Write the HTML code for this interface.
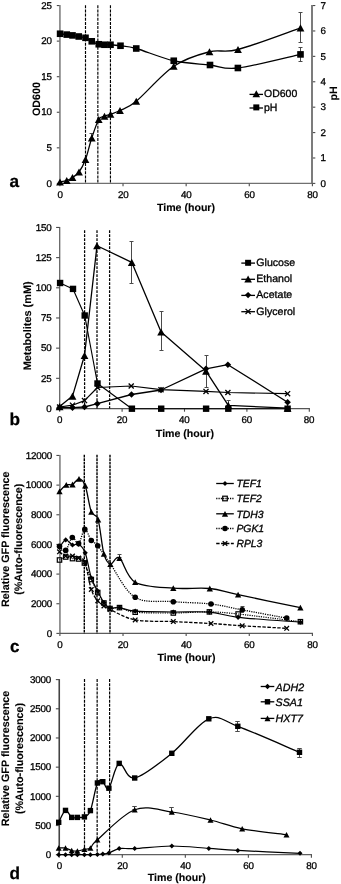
<!DOCTYPE html>
<html lang="en">
<head>
<meta charset="utf-8">
<title>Figure</title>
<style>
html,body{margin:0;padding:0;background:#fff;}
body{width:341px;height:884px;overflow:hidden;font-family:"Liberation Sans",sans-serif;}
svg{display:block;will-change:transform;filter:grayscale(1);}
</style>
</head>
<body>
<svg width="341" height="884" viewBox="0 0 341 884" font-family="'Liberation Sans', sans-serif" text-rendering="geometricPrecision">
<line x1="59.9" y1="5.05" x2="59.9" y2="184" stroke="#909090" stroke-width="1.85"/>
<line x1="312" y1="5.05" x2="312" y2="184" stroke="#7c7c7c" stroke-width="2"/>
<line x1="59.9" y1="183.4" x2="312.4" y2="183.4" stroke="#707070" stroke-width="1.4"/>
<line x1="56.8" y1="183.4" x2="59.4" y2="183.4" stroke="#4a4a4a" stroke-width="1.1"/>
<text x="51.7" y="186.61" font-size="9.8" text-anchor="end" letter-spacing="-0.2" fill="#000" stroke="#000" stroke-width="0.3">0</text>
<line x1="56.8" y1="147.83" x2="59.4" y2="147.83" stroke="#4a4a4a" stroke-width="1.1"/>
<text x="51.7" y="151.04" font-size="9.8" text-anchor="end" letter-spacing="-0.2" fill="#000" stroke="#000" stroke-width="0.3">5</text>
<line x1="56.8" y1="112.26" x2="59.4" y2="112.26" stroke="#4a4a4a" stroke-width="1.1"/>
<text x="51.7" y="115.47" font-size="9.8" text-anchor="end" letter-spacing="-0.2" fill="#000" stroke="#000" stroke-width="0.3">10</text>
<line x1="56.8" y1="76.69" x2="59.4" y2="76.69" stroke="#4a4a4a" stroke-width="1.1"/>
<text x="51.7" y="79.9" font-size="9.8" text-anchor="end" letter-spacing="-0.2" fill="#000" stroke="#000" stroke-width="0.3">15</text>
<line x1="56.8" y1="41.12" x2="59.4" y2="41.12" stroke="#4a4a4a" stroke-width="1.1"/>
<text x="51.7" y="44.33" font-size="9.8" text-anchor="end" letter-spacing="-0.2" fill="#000" stroke="#000" stroke-width="0.3">20</text>
<line x1="56.8" y1="5.55" x2="59.4" y2="5.55" stroke="#4a4a4a" stroke-width="1.1"/>
<text x="51.7" y="8.76" font-size="9.8" text-anchor="end" letter-spacing="-0.2" fill="#000" stroke="#000" stroke-width="0.3">25</text>
<line x1="312.9" y1="183.4" x2="315.3" y2="183.4" stroke="#4a4a4a" stroke-width="1.1"/>
<text x="320.6" y="186.61" font-size="9.8" text-anchor="start" letter-spacing="-0.2" fill="#000" stroke="#000" stroke-width="0.3">0</text>
<line x1="312.9" y1="157.99" x2="315.3" y2="157.99" stroke="#4a4a4a" stroke-width="1.1"/>
<text x="320.6" y="161.2" font-size="9.8" text-anchor="start" letter-spacing="-0.2" fill="#000" stroke="#000" stroke-width="0.3">1</text>
<line x1="312.9" y1="132.59" x2="315.3" y2="132.59" stroke="#4a4a4a" stroke-width="1.1"/>
<text x="320.6" y="135.79" font-size="9.8" text-anchor="start" letter-spacing="-0.2" fill="#000" stroke="#000" stroke-width="0.3">2</text>
<line x1="312.9" y1="107.18" x2="315.3" y2="107.18" stroke="#4a4a4a" stroke-width="1.1"/>
<text x="320.6" y="110.39" font-size="9.8" text-anchor="start" letter-spacing="-0.2" fill="#000" stroke="#000" stroke-width="0.3">3</text>
<line x1="312.9" y1="81.77" x2="315.3" y2="81.77" stroke="#4a4a4a" stroke-width="1.1"/>
<text x="320.6" y="84.98" font-size="9.8" text-anchor="start" letter-spacing="-0.2" fill="#000" stroke="#000" stroke-width="0.3">4</text>
<line x1="312.9" y1="56.36" x2="315.3" y2="56.36" stroke="#4a4a4a" stroke-width="1.1"/>
<text x="320.6" y="59.57" font-size="9.8" text-anchor="start" letter-spacing="-0.2" fill="#000" stroke="#000" stroke-width="0.3">5</text>
<line x1="312.9" y1="30.96" x2="315.3" y2="30.96" stroke="#4a4a4a" stroke-width="1.1"/>
<text x="320.6" y="34.17" font-size="9.8" text-anchor="start" letter-spacing="-0.2" fill="#000" stroke="#000" stroke-width="0.3">6</text>
<line x1="312.9" y1="5.55" x2="315.3" y2="5.55" stroke="#4a4a4a" stroke-width="1.1"/>
<text x="320.6" y="8.76" font-size="9.8" text-anchor="start" letter-spacing="-0.2" fill="#000" stroke="#000" stroke-width="0.3">7</text>
<line x1="59.9" y1="183.4" x2="59.9" y2="186.2" stroke="#4a4a4a" stroke-width="1.1"/>
<text x="60.1" y="197.91" font-size="9.8" text-anchor="middle" letter-spacing="-0.2" fill="#000" stroke="#000" stroke-width="0.3">0</text>
<line x1="123.02" y1="183.4" x2="123.02" y2="186.2" stroke="#4a4a4a" stroke-width="1.1"/>
<text x="123.22" y="197.91" font-size="9.8" text-anchor="middle" letter-spacing="-0.2" fill="#000" stroke="#000" stroke-width="0.3">20</text>
<line x1="186.15" y1="183.4" x2="186.15" y2="186.2" stroke="#4a4a4a" stroke-width="1.1"/>
<text x="186.35" y="197.91" font-size="9.8" text-anchor="middle" letter-spacing="-0.2" fill="#000" stroke="#000" stroke-width="0.3">40</text>
<line x1="249.27" y1="183.4" x2="249.27" y2="186.2" stroke="#4a4a4a" stroke-width="1.1"/>
<text x="249.47" y="197.91" font-size="9.8" text-anchor="middle" letter-spacing="-0.2" fill="#000" stroke="#000" stroke-width="0.3">60</text>
<line x1="312.4" y1="183.4" x2="312.4" y2="186.2" stroke="#4a4a4a" stroke-width="1.1"/>
<text x="312.6" y="197.91" font-size="9.8" text-anchor="middle" letter-spacing="-0.2" fill="#000" stroke="#000" stroke-width="0.3">80</text>
<line x1="85.5" y1="5.3" x2="85.5" y2="183.4" stroke="#000" stroke-width="1.15" stroke-dasharray="3 1.15"/>
<line x1="97.85" y1="5.3" x2="97.85" y2="183.4" stroke="#000" stroke-width="1.15" stroke-dasharray="3 1.15"/>
<line x1="110.45" y1="5.3" x2="110.45" y2="183.4" stroke="#000" stroke-width="1.15" stroke-dasharray="3 1.15"/>
<text x="36.3" y="102.83" font-size="10.7" text-anchor="middle" font-weight="bold" transform="rotate(-90 36.3 99)" fill="#000" stroke="#000" stroke-width="0.12">OD600</text>
<text x="333.6" y="97.23" font-size="10.7" text-anchor="middle" font-weight="bold" transform="rotate(-90 333.6 93.4)" fill="#000" stroke="#000" stroke-width="0.12">pH</text>
<text x="186" y="210.59" font-size="10.6" text-anchor="middle" font-weight="bold" fill="#000" stroke="#000" stroke-width="0.12">Time (hour)</text>
<text x="9.6" y="187.2" font-size="17.2" font-weight="bold" fill="#000" stroke="#000" stroke-width="0.25">a</text>
<line x1="300.5" y1="12.5" x2="300.5" y2="42.5" stroke="#4a4a4a" stroke-width="1"/>
<line x1="298.5" y1="12.5" x2="302.5" y2="12.5" stroke="#4a4a4a" stroke-width="1"/>
<line x1="298.5" y1="42.5" x2="302.5" y2="42.5" stroke="#4a4a4a" stroke-width="1"/>
<line x1="91.5" y1="133.5" x2="91.5" y2="138.5" stroke="#4a4a4a" stroke-width="1"/>
<line x1="89.5" y1="133.5" x2="93.5" y2="133.5" stroke="#4a4a4a" stroke-width="1"/>
<line x1="89.5" y1="138.5" x2="93.5" y2="138.5" stroke="#4a4a4a" stroke-width="1"/>
<line x1="300.5" y1="47.5" x2="300.5" y2="61.5" stroke="#4a4a4a" stroke-width="1"/>
<line x1="298.5" y1="47.5" x2="302.5" y2="47.5" stroke="#4a4a4a" stroke-width="1"/>
<line x1="298.5" y1="61.5" x2="302.5" y2="61.5" stroke="#4a4a4a" stroke-width="1"/>
<path d="M60.1 33.75 C61.21 33.89 64.68 34.33 66.75 34.6 C68.82 34.88 70.5 35.08 72.5 35.4 C74.5 35.72 76.58 36.1 78.75 36.5 C80.92 36.9 83.33 37 85.5 37.8 C87.67 38.6 89.54 40.22 91.75 41.3 C93.96 42.38 96.62 43.67 98.75 44.25 C100.88 44.83 102.54 44.67 104.5 44.75 C106.46 44.83 107.83 44.58 110.5 44.75 C113.17 44.92 116.21 45.12 120.5 45.75 C124.79 46.38 127.38 46 136.25 48.5 C145.12 51 161.46 58 173.75 60.75 C186.04 63.5 199.31 63.79 210 65 C220.69 66.21 222.82 69.77 237.9 68 C252.98 66.23 290.07 56.67 300.5 54.4" fill="none" stroke="#000" stroke-width="1.3" stroke-linejoin="round"/>
<rect x="56.8" y="30.45" width="6.6" height="6.6" fill="#000"/>
<rect x="63.45" y="31.3" width="6.6" height="6.6" fill="#000"/>
<rect x="69.2" y="32.1" width="6.6" height="6.6" fill="#000"/>
<rect x="75.45" y="33.2" width="6.6" height="6.6" fill="#000"/>
<rect x="82.2" y="34.5" width="6.6" height="6.6" fill="#000"/>
<rect x="88.45" y="38" width="6.6" height="6.6" fill="#000"/>
<rect x="95.45" y="40.95" width="6.6" height="6.6" fill="#000"/>
<rect x="101.2" y="41.45" width="6.6" height="6.6" fill="#000"/>
<rect x="107.2" y="41.45" width="6.6" height="6.6" fill="#000"/>
<rect x="117.2" y="42.45" width="6.6" height="6.6" fill="#000"/>
<rect x="132.95" y="45.2" width="6.6" height="6.6" fill="#000"/>
<rect x="170.45" y="57.45" width="6.6" height="6.6" fill="#000"/>
<rect x="206.7" y="61.7" width="6.6" height="6.6" fill="#000"/>
<rect x="234.6" y="64.7" width="6.6" height="6.6" fill="#000"/>
<rect x="297.2" y="51.1" width="6.6" height="6.6" fill="#000"/>
<path d="M60 182 C61.12 181.75 64.67 181.25 66.75 180.5 C68.83 179.75 70.46 178.92 72.5 177.5 C74.54 176.08 76.83 175 79 172 C81.17 169 83.38 165.17 85.5 159.5 C87.62 153.83 89.54 144.67 91.75 138 C93.96 131.33 96.62 123.12 98.75 119.5 C100.88 115.88 102.54 117.12 104.5 116.25 C106.46 115.38 107.92 115.21 110.5 114.25 C113.08 113.29 115.71 112.67 120 110.5 C124.29 108.33 127.29 108.62 136.25 101.25 C145.21 93.88 161.54 74.5 173.75 66.25 C185.96 58 198.79 54.54 209.5 51.75 C220.21 48.96 222.83 53.48 238 49.5 C253.17 45.52 290.08 31.5 300.5 27.9" fill="none" stroke="#000" stroke-width="1.3" stroke-linejoin="round"/>
<path d="M60 178.4 L63.89 185.6 L56.11 185.6 Z" fill="#000"/>
<path d="M66.75 176.9 L70.64 184.1 L62.86 184.1 Z" fill="#000"/>
<path d="M72.5 173.9 L76.39 181.1 L68.61 181.1 Z" fill="#000"/>
<path d="M79 168.4 L82.89 175.6 L75.11 175.6 Z" fill="#000"/>
<path d="M85.5 155.9 L89.39 163.1 L81.61 163.1 Z" fill="#000"/>
<path d="M91.75 134.4 L95.64 141.6 L87.86 141.6 Z" fill="#000"/>
<path d="M98.75 115.9 L102.64 123.1 L94.86 123.1 Z" fill="#000"/>
<path d="M104.5 112.65 L108.39 119.85 L100.61 119.85 Z" fill="#000"/>
<path d="M110.5 110.65 L114.39 117.85 L106.61 117.85 Z" fill="#000"/>
<path d="M120 106.9 L123.89 114.1 L116.11 114.1 Z" fill="#000"/>
<path d="M136.25 97.65 L140.14 104.85 L132.36 104.85 Z" fill="#000"/>
<path d="M173.75 62.65 L177.64 69.85 L169.86 69.85 Z" fill="#000"/>
<path d="M209.5 48.15 L213.39 55.35 L205.61 55.35 Z" fill="#000"/>
<path d="M238 45.9 L241.89 53.1 L234.11 53.1 Z" fill="#000"/>
<path d="M300.5 24.3 L304.39 31.5 L296.61 31.5 Z" fill="#000"/>
<line x1="249.5" y1="94.4" x2="263" y2="94.4" stroke="#000" stroke-width="1.3"/>
<path d="M256.3 90.3 L260.08 97.3 L252.52 97.3 Z" fill="#000"/>
<text x="264" y="97.16" font-size="10.5" text-anchor="start" fill="#000" stroke="#000" stroke-width="0.32">OD600</text>
<line x1="249.5" y1="108" x2="263" y2="108" stroke="#000" stroke-width="1.3"/>
<rect x="253.3" y="104.4" width="6" height="6" fill="#000"/>
<text x="264" y="110.76" font-size="10.5" text-anchor="start" fill="#000" stroke="#000" stroke-width="0.32">pH</text>
<line x1="59.7" y1="226.95" x2="59.7" y2="409.1" stroke="#606060" stroke-width="1.25"/>
<line x1="59.7" y1="408.5" x2="309.9" y2="408.5" stroke="#555" stroke-width="1.25"/>
<line x1="56.1" y1="408.5" x2="59.7" y2="408.5" stroke="#4a4a4a" stroke-width="1.1"/>
<text x="51.6" y="411.81" font-size="9.8" text-anchor="end" letter-spacing="-0.2" fill="#000" stroke="#000" stroke-width="0.3">0</text>
<line x1="56.1" y1="378.32" x2="59.7" y2="378.32" stroke="#4a4a4a" stroke-width="1.1"/>
<text x="51.6" y="381.63" font-size="9.8" text-anchor="end" letter-spacing="-0.2" fill="#000" stroke="#000" stroke-width="0.3">25</text>
<line x1="56.1" y1="348.15" x2="59.7" y2="348.15" stroke="#4a4a4a" stroke-width="1.1"/>
<text x="51.6" y="351.46" font-size="9.8" text-anchor="end" letter-spacing="-0.2" fill="#000" stroke="#000" stroke-width="0.3">50</text>
<line x1="56.1" y1="317.97" x2="59.7" y2="317.97" stroke="#4a4a4a" stroke-width="1.1"/>
<text x="51.6" y="321.28" font-size="9.8" text-anchor="end" letter-spacing="-0.2" fill="#000" stroke="#000" stroke-width="0.3">75</text>
<line x1="56.1" y1="287.8" x2="59.7" y2="287.8" stroke="#4a4a4a" stroke-width="1.1"/>
<text x="51.6" y="291.11" font-size="9.8" text-anchor="end" letter-spacing="-0.2" fill="#000" stroke="#000" stroke-width="0.3">100</text>
<line x1="56.1" y1="257.62" x2="59.7" y2="257.62" stroke="#4a4a4a" stroke-width="1.1"/>
<text x="51.6" y="260.93" font-size="9.8" text-anchor="end" letter-spacing="-0.2" fill="#000" stroke="#000" stroke-width="0.3">125</text>
<line x1="56.1" y1="227.45" x2="59.7" y2="227.45" stroke="#4a4a4a" stroke-width="1.1"/>
<text x="51.6" y="230.76" font-size="9.8" text-anchor="end" letter-spacing="-0.2" fill="#000" stroke="#000" stroke-width="0.3">150</text>
<line x1="59.7" y1="408.5" x2="59.7" y2="411.7" stroke="#4a4a4a" stroke-width="1.1"/>
<text x="59.5" y="423.41" font-size="9.8" text-anchor="middle" letter-spacing="-0.2" fill="#000" stroke="#000" stroke-width="0.3">0</text>
<line x1="122.1" y1="408.5" x2="122.1" y2="411.7" stroke="#4a4a4a" stroke-width="1.1"/>
<text x="121.9" y="423.41" font-size="9.8" text-anchor="middle" letter-spacing="-0.2" fill="#000" stroke="#000" stroke-width="0.3">20</text>
<line x1="184.5" y1="408.5" x2="184.5" y2="411.7" stroke="#4a4a4a" stroke-width="1.1"/>
<text x="184.3" y="423.41" font-size="9.8" text-anchor="middle" letter-spacing="-0.2" fill="#000" stroke="#000" stroke-width="0.3">40</text>
<line x1="246.9" y1="408.5" x2="246.9" y2="411.7" stroke="#4a4a4a" stroke-width="1.1"/>
<text x="246.7" y="423.41" font-size="9.8" text-anchor="middle" letter-spacing="-0.2" fill="#000" stroke="#000" stroke-width="0.3">60</text>
<line x1="309.3" y1="408.5" x2="309.3" y2="411.7" stroke="#4a4a4a" stroke-width="1.1"/>
<text x="309.1" y="423.41" font-size="9.8" text-anchor="middle" letter-spacing="-0.2" fill="#000" stroke="#000" stroke-width="0.3">80</text>
<line x1="84.6" y1="230.2" x2="84.6" y2="408.5" stroke="#000" stroke-width="1.25" stroke-dasharray="2.9 1.1"/>
<line x1="97" y1="230.2" x2="97" y2="408.5" stroke="#000" stroke-width="1.25" stroke-dasharray="2.9 1.1"/>
<line x1="109.6" y1="230.2" x2="109.6" y2="408.5" stroke="#000" stroke-width="1.25" stroke-dasharray="2.9 1.1"/>
<text x="27.5" y="329.8" font-size="10.9" text-anchor="middle" font-weight="bold" transform="rotate(-90 27.5 325.9)" fill="#000" stroke="#000" stroke-width="0.12">Metabolites (mM)</text>
<text x="184.9" y="436.69" font-size="10.6" text-anchor="middle" font-weight="bold" fill="#000" stroke="#000" stroke-width="0.12">Time (hour)</text>
<text x="9.6" y="424.5" font-size="17.2" font-weight="bold" fill="#000" stroke="#000" stroke-width="0.25">b</text>
<line x1="131.5" y1="241.5" x2="131.5" y2="283.5" stroke="#4a4a4a" stroke-width="1"/>
<line x1="129.5" y1="241.5" x2="133.5" y2="241.5" stroke="#4a4a4a" stroke-width="1"/>
<line x1="129.5" y1="283.5" x2="133.5" y2="283.5" stroke="#4a4a4a" stroke-width="1"/>
<line x1="161.5" y1="311.5" x2="161.5" y2="350.5" stroke="#4a4a4a" stroke-width="1"/>
<line x1="159.5" y1="311.5" x2="163.5" y2="311.5" stroke="#4a4a4a" stroke-width="1"/>
<line x1="159.5" y1="350.5" x2="163.5" y2="350.5" stroke="#4a4a4a" stroke-width="1"/>
<line x1="206.5" y1="355.5" x2="206.5" y2="387.5" stroke="#4a4a4a" stroke-width="1"/>
<line x1="204.5" y1="355.5" x2="208.5" y2="355.5" stroke="#4a4a4a" stroke-width="1"/>
<line x1="204.5" y1="387.5" x2="208.5" y2="387.5" stroke="#4a4a4a" stroke-width="1"/>
<line x1="228.5" y1="400.5" x2="228.5" y2="405.5" stroke="#4a4a4a" stroke-width="1"/>
<line x1="226.5" y1="400.5" x2="230.5" y2="400.5" stroke="#4a4a4a" stroke-width="1"/>
<line x1="226.5" y1="405.5" x2="230.5" y2="405.5" stroke="#4a4a4a" stroke-width="1"/>
<path d="M60.1 283 L73 288.9 L84.7 315.5 L97.5 383.5 L131.9 408.7 L161.2 408.7 L206.1 408.7 L228.3 408.7 L287.6 408.7" fill="none" stroke="#000" stroke-width="1.15" stroke-linejoin="round"/>
<rect x="56.9" y="279.8" width="6.4" height="6.4" fill="#000"/>
<rect x="69.8" y="285.7" width="6.4" height="6.4" fill="#000"/>
<rect x="81.5" y="312.3" width="6.4" height="6.4" fill="#000"/>
<rect x="94.3" y="380.3" width="6.4" height="6.4" fill="#000"/>
<rect x="128.7" y="405.5" width="6.4" height="6.4" fill="#000"/>
<rect x="158" y="405.5" width="6.4" height="6.4" fill="#000"/>
<rect x="202.9" y="405.5" width="6.4" height="6.4" fill="#000"/>
<rect x="225.1" y="405.5" width="6.4" height="6.4" fill="#000"/>
<rect x="284.4" y="405.5" width="6.4" height="6.4" fill="#000"/>
<path d="M59.6 407 L72.5 405.2 L84.5 400.6 L97.5 387.5 L131.2 386 L161 389.7 L206 391.4 L227.9 392.5 L287.6 393.7" fill="none" stroke="#000" stroke-width="1.2" stroke-linejoin="round"/>
<path d="M57.05 404.45 L62.15 409.55 M57.05 409.55 L62.15 404.45" stroke="#000" stroke-width="1.3" fill="none"/>
<path d="M69.95 402.65 L75.05 407.75 M69.95 407.75 L75.05 402.65" stroke="#000" stroke-width="1.3" fill="none"/>
<path d="M81.95 398.05 L87.05 403.15 M81.95 403.15 L87.05 398.05" stroke="#000" stroke-width="1.3" fill="none"/>
<path d="M94.95 384.95 L100.05 390.05 M94.95 390.05 L100.05 384.95" stroke="#000" stroke-width="1.3" fill="none"/>
<path d="M128.65 383.45 L133.75 388.55 M128.65 388.55 L133.75 383.45" stroke="#000" stroke-width="1.3" fill="none"/>
<path d="M158.45 387.15 L163.55 392.25 M158.45 392.25 L163.55 387.15" stroke="#000" stroke-width="1.3" fill="none"/>
<path d="M203.45 388.85 L208.55 393.95 M203.45 393.95 L208.55 388.85" stroke="#000" stroke-width="1.3" fill="none"/>
<path d="M225.35 389.95 L230.45 395.05 M225.35 395.05 L230.45 389.95" stroke="#000" stroke-width="1.3" fill="none"/>
<path d="M285.05 391.15 L290.15 396.25 M285.05 396.25 L290.15 391.15" stroke="#000" stroke-width="1.3" fill="none"/>
<path d="M59.6 407.5 L72.5 407.7 L84.5 407 L97.3 403.7 L131.5 394.5 L161 390 L206 368.8 L227.9 364.7 L287.6 402.2" fill="none" stroke="#000" stroke-width="1.3" stroke-linejoin="round"/>
<path d="M59.6 404.2 L62.9 407.5 L59.6 410.8 L56.3 407.5 Z" fill="#000"/>
<path d="M72.5 404.4 L75.8 407.7 L72.5 411 L69.2 407.7 Z" fill="#000"/>
<path d="M84.5 403.7 L87.8 407 L84.5 410.3 L81.2 407 Z" fill="#000"/>
<path d="M97.3 400.4 L100.6 403.7 L97.3 407 L94 403.7 Z" fill="#000"/>
<path d="M131.5 391.2 L134.8 394.5 L131.5 397.8 L128.2 394.5 Z" fill="#000"/>
<path d="M161 386.7 L164.3 390 L161 393.3 L157.7 390 Z" fill="#000"/>
<path d="M206 365.5 L209.3 368.8 L206 372.1 L202.7 368.8 Z" fill="#000"/>
<path d="M227.9 361.4 L231.2 364.7 L227.9 368 L224.6 364.7 Z" fill="#000"/>
<path d="M287.6 398.9 L290.9 402.2 L287.6 405.5 L284.3 402.2 Z" fill="#000"/>
<path d="M59.6 406.6 L72.5 396.1 L84.5 355.5 L97 245.75 L131.75 262.3 L161.1 332 L206 371.1 L228.3 405.3 L287.6 408.2" fill="none" stroke="#000" stroke-width="1.3" stroke-linejoin="round"/>
<path d="M59.6 403 L63.49 410.2 L55.71 410.2 Z" fill="#000"/>
<path d="M72.5 392.5 L76.39 399.7 L68.61 399.7 Z" fill="#000"/>
<path d="M84.5 351.9 L88.39 359.1 L80.61 359.1 Z" fill="#000"/>
<path d="M97 242.15 L100.89 249.35 L93.11 249.35 Z" fill="#000"/>
<path d="M131.75 258.7 L135.64 265.9 L127.86 265.9 Z" fill="#000"/>
<path d="M161.1 328.4 L164.99 335.6 L157.21 335.6 Z" fill="#000"/>
<path d="M206 367.5 L209.89 374.7 L202.11 374.7 Z" fill="#000"/>
<path d="M228.3 401.7 L232.19 408.9 L224.41 408.9 Z" fill="#000"/>
<path d="M287.6 404.6 L291.49 411.8 L283.71 411.8 Z" fill="#000"/>
<line x1="241.3" y1="263.1" x2="255" y2="263.1" stroke="#000" stroke-width="1.3"/>
<rect x="245.1" y="259.8" width="6" height="6" fill="#000"/>
<text x="256.3" y="266.09" font-size="10.6" text-anchor="start" fill="#000" stroke="#000" stroke-width="0.32">Glucose</text>
<line x1="241.3" y1="279.3" x2="255" y2="279.3" stroke="#000" stroke-width="1.3"/>
<path d="M248.1 275.5 L251.88 282.5 L244.32 282.5 Z" fill="#000"/>
<text x="256.3" y="282.29" font-size="10.6" text-anchor="start" fill="#000" stroke="#000" stroke-width="0.32">Ethanol</text>
<line x1="241.3" y1="295.4" x2="255" y2="295.4" stroke="#000" stroke-width="1.3"/>
<path d="M248.1 291.9 L251.3 295.1 L248.1 298.3 L244.9 295.1 Z" fill="#000"/>
<text x="256.3" y="298.39" font-size="10.6" text-anchor="start" fill="#000" stroke="#000" stroke-width="0.32">Acetate</text>
<line x1="241.3" y1="311.7" x2="255" y2="311.7" stroke="#000" stroke-width="1.3"/>
<path d="M245.55 308.85 L250.65 313.95 M245.55 313.95 L250.65 308.85" stroke="#000" stroke-width="1.3" fill="none"/>
<text x="256.3" y="314.69" font-size="10.6" text-anchor="start" fill="#000" stroke="#000" stroke-width="0.32">Glycerol</text>
<line x1="59.9" y1="454.95" x2="59.9" y2="634" stroke="#909090" stroke-width="1.85"/>
<line x1="59.9" y1="633.4" x2="313" y2="633.4" stroke="#5c5c5c" stroke-width="1.35"/>
<line x1="56.4" y1="633.4" x2="59.4" y2="633.4" stroke="#4a4a4a" stroke-width="1.1"/>
<text x="52" y="636.71" font-size="9.8" text-anchor="end" letter-spacing="-0.2" fill="#000" stroke="#000" stroke-width="0.3">0</text>
<line x1="56.4" y1="603.74" x2="59.4" y2="603.74" stroke="#4a4a4a" stroke-width="1.1"/>
<text x="52" y="607.05" font-size="9.8" text-anchor="end" letter-spacing="-0.2" fill="#000" stroke="#000" stroke-width="0.3">2000</text>
<line x1="56.4" y1="574.08" x2="59.4" y2="574.08" stroke="#4a4a4a" stroke-width="1.1"/>
<text x="52" y="577.39" font-size="9.8" text-anchor="end" letter-spacing="-0.2" fill="#000" stroke="#000" stroke-width="0.3">4000</text>
<line x1="56.4" y1="544.42" x2="59.4" y2="544.42" stroke="#4a4a4a" stroke-width="1.1"/>
<text x="52" y="547.73" font-size="9.8" text-anchor="end" letter-spacing="-0.2" fill="#000" stroke="#000" stroke-width="0.3">6000</text>
<line x1="56.4" y1="514.77" x2="59.4" y2="514.77" stroke="#4a4a4a" stroke-width="1.1"/>
<text x="52" y="518.08" font-size="9.8" text-anchor="end" letter-spacing="-0.2" fill="#000" stroke="#000" stroke-width="0.3">8000</text>
<line x1="56.4" y1="485.11" x2="59.4" y2="485.11" stroke="#4a4a4a" stroke-width="1.1"/>
<text x="52" y="488.42" font-size="9.8" text-anchor="end" letter-spacing="-0.2" fill="#000" stroke="#000" stroke-width="0.3">10000</text>
<line x1="56.4" y1="455.45" x2="59.4" y2="455.45" stroke="#4a4a4a" stroke-width="1.1"/>
<text x="52" y="458.76" font-size="9.8" text-anchor="end" letter-spacing="-0.2" fill="#000" stroke="#000" stroke-width="0.3">12000</text>
<line x1="59.9" y1="633.4" x2="59.9" y2="636" stroke="#4a4a4a" stroke-width="1.1"/>
<text x="59.9" y="648.01" font-size="9.8" text-anchor="middle" letter-spacing="-0.2" fill="#000" stroke="#000" stroke-width="0.3">0</text>
<line x1="123.02" y1="633.4" x2="123.02" y2="636" stroke="#4a4a4a" stroke-width="1.1"/>
<text x="123.02" y="648.01" font-size="9.8" text-anchor="middle" letter-spacing="-0.2" fill="#000" stroke="#000" stroke-width="0.3">20</text>
<line x1="186.15" y1="633.4" x2="186.15" y2="636" stroke="#4a4a4a" stroke-width="1.1"/>
<text x="186.15" y="648.01" font-size="9.8" text-anchor="middle" letter-spacing="-0.2" fill="#000" stroke="#000" stroke-width="0.3">40</text>
<line x1="249.27" y1="633.4" x2="249.27" y2="636" stroke="#4a4a4a" stroke-width="1.1"/>
<text x="249.27" y="648.01" font-size="9.8" text-anchor="middle" letter-spacing="-0.2" fill="#000" stroke="#000" stroke-width="0.3">60</text>
<line x1="312.4" y1="633.4" x2="312.4" y2="636" stroke="#4a4a4a" stroke-width="1.1"/>
<text x="312.4" y="648.01" font-size="9.8" text-anchor="middle" letter-spacing="-0.2" fill="#000" stroke="#000" stroke-width="0.3">80</text>
<line x1="84.3" y1="454.7" x2="84.3" y2="633.4" stroke="#000" stroke-width="1.4" stroke-dasharray="2.7 0.8"/>
<line x1="97" y1="454.7" x2="97" y2="633.4" stroke="#000" stroke-width="1.4" stroke-dasharray="2.7 0.8"/>
<line x1="110" y1="454.7" x2="110" y2="633.4" stroke="#000" stroke-width="1.4" stroke-dasharray="2.7 0.8"/>
<text x="4.8" y="543.15" font-size="10.75" text-anchor="middle" font-weight="bold" transform="rotate(-90 4.8 539.3)" fill="#000" stroke="#000" stroke-width="0.12">Relative GFP fluorescence</text>
<text x="18.5" y="543.15" font-size="10.75" text-anchor="middle" font-weight="bold" transform="rotate(-90 18.5 539.3)" fill="#000" stroke="#000" stroke-width="0.12">(%Auto-fluorescence)</text>
<text x="186.5" y="661.19" font-size="10.6" text-anchor="middle" font-weight="bold" fill="#000" stroke="#000" stroke-width="0.12">Time (hour)</text>
<text x="9.9" y="652.0" font-size="17" font-weight="bold" fill="#000" stroke="#000" stroke-width="0.25">c</text>
<line x1="119.5" y1="554.5" x2="119.5" y2="557.5" stroke="#4a4a4a" stroke-width="1"/>
<line x1="117.5" y1="554.5" x2="121.5" y2="554.5" stroke="#4a4a4a" stroke-width="1"/>
<line x1="117.5" y1="557.5" x2="121.5" y2="557.5" stroke="#4a4a4a" stroke-width="1"/>
<line x1="242.5" y1="606.5" x2="242.5" y2="609.5" stroke="#4a4a4a" stroke-width="1"/>
<line x1="240.5" y1="606.5" x2="244.5" y2="606.5" stroke="#4a4a4a" stroke-width="1"/>
<line x1="240.5" y1="609.5" x2="244.5" y2="609.5" stroke="#4a4a4a" stroke-width="1"/>
<path d="M59.5 551.8 C60.53 552.5 63.53 555.3 65.7 556 C67.87 556.7 70.35 555.67 72.5 556 C74.65 556.33 76.55 557 78.6 558 C80.65 559 82.68 556.75 84.8 562 C86.92 567.25 89.15 583.03 91.3 589.5 C93.45 595.97 95.6 598.05 97.7 600.8 C99.8 603.55 101.85 604.55 103.9 606 C105.95 607.45 104.78 607.18 110 609.5 C115.22 611.82 124.65 617.88 135.2 619.9 C145.75 621.92 160.67 621 173.3 621.6 C185.93 622.2 199.52 622.8 211 623.5 C222.48 624.2 229.58 625 242.2 625.8 C254.82 626.6 279.28 627.88 286.7 628.3" fill="none" stroke="#000" stroke-width="1.3" stroke-linejoin="round" stroke-dasharray="3.4 1.5"/>
<path d="M57.2 549.5 L61.8 554.09 M57.2 554.09 L61.8 549.5" stroke="#000" stroke-width="1.3" fill="none"/>
<path d="M63.41 553.71 L68 558.29 M63.41 558.29 L68 553.71" stroke="#000" stroke-width="1.3" fill="none"/>
<path d="M70.2 553.71 L74.8 558.29 M70.2 558.29 L74.8 553.71" stroke="#000" stroke-width="1.3" fill="none"/>
<path d="M76.3 555.71 L80.89 560.29 M76.3 560.29 L80.89 555.71" stroke="#000" stroke-width="1.3" fill="none"/>
<path d="M82.5 559.71 L87.09 564.29 M82.5 564.29 L87.09 559.71" stroke="#000" stroke-width="1.3" fill="none"/>
<path d="M89 587.21 L93.59 591.79 M89 591.79 L93.59 587.21" stroke="#000" stroke-width="1.3" fill="none"/>
<path d="M95.41 598.5 L100 603.09 M95.41 603.09 L100 598.5" stroke="#000" stroke-width="1.3" fill="none"/>
<path d="M101.61 603.71 L106.2 608.29 M101.61 608.29 L106.2 603.71" stroke="#000" stroke-width="1.3" fill="none"/>
<path d="M107.7 607.21 L112.3 611.79 M107.7 611.79 L112.3 607.21" stroke="#000" stroke-width="1.3" fill="none"/>
<path d="M132.91 617.61 L137.49 622.19 M132.91 622.19 L137.49 617.61" stroke="#000" stroke-width="1.3" fill="none"/>
<path d="M171.01 619.31 L175.59 623.89 M171.01 623.89 L175.59 619.31" stroke="#000" stroke-width="1.3" fill="none"/>
<path d="M208.71 621.21 L213.29 625.79 M208.71 625.79 L213.29 621.21" stroke="#000" stroke-width="1.3" fill="none"/>
<path d="M239.91 623.5 L244.49 628.09 M239.91 628.09 L244.49 623.5" stroke="#000" stroke-width="1.3" fill="none"/>
<path d="M284.4 626 L289 630.59 M284.4 630.59 L289 626" stroke="#000" stroke-width="1.3" fill="none"/>
<path d="M59.5 560 C60.53 559.5 63.53 557.23 65.7 557 C67.87 556.77 70.35 558.27 72.5 558.6 C74.65 558.93 76.62 558.27 78.6 559 C80.58 559.73 82.28 559.58 84.4 563 C86.52 566.42 89.08 574.58 91.3 579.5 C93.52 584.42 95.6 588.58 97.7 592.5 C99.8 596.42 101.85 600.33 103.9 603 C105.95 605.67 107.4 607.73 110 608.5 C112.6 609.27 115.3 606.98 119.5 607.6 C123.7 608.22 126.23 611.3 135.2 612.2 C144.17 613.1 160.93 613.05 173.3 613 C185.67 612.95 198.6 611.73 209.4 611.9 C220.2 612.07 222.93 612.37 238.1 614 C253.27 615.63 290.02 620.42 300.4 621.7" fill="none" stroke="#000" stroke-width="1.2" stroke-linejoin="round" stroke-dasharray="1.2 1.1"/>
<rect x="57.3" y="557.8" width="4.4" height="4.4" fill="none" stroke="#000" stroke-width="1.2"/>
<rect x="63.5" y="554.8" width="4.4" height="4.4" fill="none" stroke="#000" stroke-width="1.2"/>
<rect x="70.3" y="556.4" width="4.4" height="4.4" fill="none" stroke="#000" stroke-width="1.2"/>
<rect x="76.4" y="556.8" width="4.4" height="4.4" fill="none" stroke="#000" stroke-width="1.2"/>
<rect x="82.2" y="560.8" width="4.4" height="4.4" fill="none" stroke="#000" stroke-width="1.2"/>
<rect x="89.1" y="577.3" width="4.4" height="4.4" fill="none" stroke="#000" stroke-width="1.2"/>
<rect x="95.5" y="590.3" width="4.4" height="4.4" fill="none" stroke="#000" stroke-width="1.2"/>
<rect x="101.7" y="600.8" width="4.4" height="4.4" fill="none" stroke="#000" stroke-width="1.2"/>
<rect x="107.8" y="606.3" width="4.4" height="4.4" fill="none" stroke="#000" stroke-width="1.2"/>
<rect x="117.3" y="605.4" width="4.4" height="4.4" fill="none" stroke="#000" stroke-width="1.2"/>
<rect x="133" y="610" width="4.4" height="4.4" fill="none" stroke="#000" stroke-width="1.2"/>
<rect x="171.1" y="610.8" width="4.4" height="4.4" fill="none" stroke="#000" stroke-width="1.2"/>
<rect x="207.2" y="609.7" width="4.4" height="4.4" fill="none" stroke="#000" stroke-width="1.2"/>
<rect x="235.9" y="611.8" width="4.4" height="4.4" fill="none" stroke="#000" stroke-width="1.2"/>
<rect x="298.2" y="619.5" width="4.4" height="4.4" fill="none" stroke="#000" stroke-width="1.2"/>
<path d="M59.5 547.5 C60.53 546.23 63.53 540.32 65.7 539.9 C67.87 539.48 70.35 544.28 72.5 545 C74.65 545.72 76.48 542.9 78.6 544.2 C80.72 545.5 83.08 547.17 85.2 552.8 C87.32 558.43 89.22 571.63 91.3 578 C93.38 584.37 95.6 586.92 97.7 591 C99.8 595.08 101.85 599.67 103.9 602.5 C105.95 605.33 107.4 607.15 110 608 C112.6 608.85 115.3 607.07 119.5 607.6 C123.7 608.13 126.23 610.47 135.2 611.2 C144.17 611.93 160.93 611.85 173.3 612 C185.67 612.15 198.6 611.22 209.4 612.1 C220.2 612.98 222.93 615.62 238.1 617.3 C253.27 618.98 290.02 621.38 300.4 622.2" fill="none" stroke="#000" stroke-width="1.2" stroke-linejoin="round"/>
<path d="M59.5 544.9 L62.1 547.5 L59.5 550.1 L56.9 547.5 Z" fill="#000"/>
<path d="M65.7 537.3 L68.3 539.9 L65.7 542.5 L63.1 539.9 Z" fill="#000"/>
<path d="M72.5 542.4 L75.1 545 L72.5 547.6 L69.9 545 Z" fill="#000"/>
<path d="M78.6 541.6 L81.2 544.2 L78.6 546.8 L76 544.2 Z" fill="#000"/>
<path d="M85.2 550.2 L87.8 552.8 L85.2 555.4 L82.6 552.8 Z" fill="#000"/>
<path d="M91.3 575.4 L93.9 578 L91.3 580.6 L88.7 578 Z" fill="#000"/>
<path d="M97.7 588.4 L100.3 591 L97.7 593.6 L95.1 591 Z" fill="#000"/>
<path d="M103.9 599.9 L106.5 602.5 L103.9 605.1 L101.3 602.5 Z" fill="#000"/>
<path d="M110 605.4 L112.6 608 L110 610.6 L107.4 608 Z" fill="#000"/>
<path d="M119.5 605 L122.1 607.6 L119.5 610.2 L116.9 607.6 Z" fill="#000"/>
<path d="M135.2 608.6 L137.8 611.2 L135.2 613.8 L132.6 611.2 Z" fill="#000"/>
<path d="M173.3 609.4 L175.9 612 L173.3 614.6 L170.7 612 Z" fill="#000"/>
<path d="M209.4 609.5 L212 612.1 L209.4 614.7 L206.8 612.1 Z" fill="#000"/>
<path d="M238.1 614.7 L240.7 617.3 L238.1 619.9 L235.5 617.3 Z" fill="#000"/>
<path d="M300.4 619.6 L303 622.2 L300.4 624.8 L297.8 622.2 Z" fill="#000"/>
<path d="M59.5 546.3 C60.53 546.98 63.57 551.87 65.7 550.4 C67.83 548.93 70.15 538.63 72.3 537.5 C74.45 536.37 76.52 544.95 78.6 543.6 C80.68 542.25 82.68 529.92 84.8 529.4 C86.92 528.88 89.15 537.78 91.3 540.5 C93.45 543.22 94.52 541.78 97.7 545.7 C100.88 549.62 104.15 555.4 110.4 564 C116.65 572.6 124.72 591.02 135.2 597.3 C145.68 603.58 160.67 600.58 173.3 601.7 C185.93 602.82 199.52 602.63 211 604 C222.48 605.37 229.58 607.55 242.2 609.9 C254.82 612.25 279.28 616.73 286.7 618.1" fill="none" stroke="#000" stroke-width="1.3" stroke-linejoin="round" stroke-dasharray="1.2 1.1"/>
<circle cx="59.5" cy="546.3" r="2.8" fill="#000"/>
<circle cx="65.7" cy="550.4" r="2.8" fill="#000"/>
<circle cx="72.3" cy="537.5" r="2.8" fill="#000"/>
<circle cx="78.6" cy="543.6" r="2.8" fill="#000"/>
<circle cx="84.8" cy="529.4" r="2.8" fill="#000"/>
<circle cx="91.3" cy="540.5" r="2.8" fill="#000"/>
<circle cx="97.7" cy="545.7" r="2.8" fill="#000"/>
<circle cx="135.2" cy="597.3" r="2.8" fill="#000"/>
<circle cx="173.3" cy="601.7" r="2.8" fill="#000"/>
<circle cx="211" cy="604" r="2.8" fill="#000"/>
<circle cx="242.2" cy="609.9" r="2.8" fill="#000"/>
<circle cx="286.7" cy="618.1" r="2.8" fill="#000"/>
<path d="M59.5 491.3 C60.63 490.23 64.13 486.03 66.3 484.9 C68.47 483.77 70.38 485.52 72.5 484.5 C74.62 483.48 76.88 478.63 79 478.8 C81.12 478.97 83.15 480 85.2 485.5 C87.25 491 89.15 506.12 91.3 511.8 C93.45 517.48 96 512.58 98.1 519.6 C100.2 526.62 101.85 546.48 103.9 553.9 C105.95 561.32 107.8 563.4 110.4 564.1 C113 564.8 115.37 555.08 119.5 558.1 C123.63 561.12 126.23 577.18 135.2 582.2 C144.17 587.22 160.87 587.15 173.3 588.2 C185.73 589.25 199 587.42 209.8 588.5 C220.6 589.58 223 591.5 238.1 594.7 C253.2 597.9 290.02 605.53 300.4 607.7" fill="none" stroke="#000" stroke-width="1.3" stroke-linejoin="round"/>
<path d="M59.5 488.4 L62.63 494.2 L56.37 494.2 Z" fill="#000"/>
<path d="M66.3 482 L69.43 487.8 L63.17 487.8 Z" fill="#000"/>
<path d="M72.5 481.6 L75.63 487.4 L69.37 487.4 Z" fill="#000"/>
<path d="M79 475.9 L82.13 481.7 L75.87 481.7 Z" fill="#000"/>
<path d="M85.2 482.6 L88.33 488.4 L82.07 488.4 Z" fill="#000"/>
<path d="M91.3 508.9 L94.43 514.7 L88.17 514.7 Z" fill="#000"/>
<path d="M98.1 516.7 L101.23 522.5 L94.97 522.5 Z" fill="#000"/>
<path d="M103.9 551 L107.03 556.8 L100.77 556.8 Z" fill="#000"/>
<path d="M110.4 561.2 L113.53 567 L107.27 567 Z" fill="#000"/>
<path d="M119.5 555.2 L122.63 561 L116.37 561 Z" fill="#000"/>
<path d="M135.2 579.3 L138.33 585.1 L132.07 585.1 Z" fill="#000"/>
<path d="M173.3 585.3 L176.43 591.1 L170.17 591.1 Z" fill="#000"/>
<path d="M209.8 585.6 L212.93 591.4 L206.67 591.4 Z" fill="#000"/>
<path d="M238.1 591.8 L241.23 597.6 L234.97 597.6 Z" fill="#000"/>
<path d="M300.4 604.8 L303.53 610.6 L297.27 610.6 Z" fill="#000"/>
<line x1="216.2" y1="483.5" x2="233.8" y2="483.5" stroke="#000" stroke-width="1.3"/>
<path d="M225 481.1 L227.4 483.5 L225 485.9 L222.6 483.5 Z" fill="#000"/>
<text x="236.4" y="487.42" font-size="10.4" text-anchor="start" font-style="italic" fill="#000" stroke="#000" stroke-width="0.32">TEF1</text>
<line x1="216.2" y1="498.5" x2="233.8" y2="498.5" stroke="#000" stroke-width="1.3" stroke-dasharray="1.2 1.1"/>
<rect x="222.7" y="496.2" width="4.6" height="4.6" fill="none" stroke="#000" stroke-width="1.2"/>
<text x="236.4" y="502.42" font-size="10.4" text-anchor="start" font-style="italic" fill="#000" stroke="#000" stroke-width="0.32">TEF2</text>
<line x1="216.2" y1="513.8" x2="233.8" y2="513.8" stroke="#000" stroke-width="1.3"/>
<path d="M225 510.9 L228.13 516.7 L221.87 516.7 Z" fill="#000"/>
<text x="236.4" y="517.72" font-size="10.4" text-anchor="start" font-style="italic" fill="#000" stroke="#000" stroke-width="0.32">TDH3</text>
<line x1="216.2" y1="528.5" x2="233.8" y2="528.5" stroke="#000" stroke-width="1.3" stroke-dasharray="1.2 1.1"/>
<circle cx="225" cy="528.5" r="2.8" fill="#000"/>
<text x="236.4" y="532.42" font-size="10.4" text-anchor="start" font-style="italic" fill="#000" stroke="#000" stroke-width="0.32">PGK1</text>
<line x1="216.2" y1="543.5" x2="233.8" y2="543.5" stroke="#000" stroke-width="1.3" stroke-dasharray="3.4 1.5"/>
<path d="M222.71 541.21 L227.29 545.79 M222.71 545.79 L227.29 541.21" stroke="#000" stroke-width="1.3" fill="none"/>
<text x="236.4" y="547.42" font-size="10.4" text-anchor="start" font-style="italic" fill="#000" stroke="#000" stroke-width="0.32">RPL3</text>
<line x1="59.25" y1="679.1" x2="59.25" y2="855.3" stroke="#444" stroke-width="1.6"/>
<line x1="59.25" y1="854.7" x2="312" y2="854.7" stroke="#606060" stroke-width="1.3"/>
<line x1="55.85" y1="854.7" x2="59.25" y2="854.7" stroke="#4a4a4a" stroke-width="1.1"/>
<text x="51" y="858.01" font-size="9.8" text-anchor="end" letter-spacing="-0.2" fill="#000" stroke="#000" stroke-width="0.3">0</text>
<line x1="55.85" y1="825.52" x2="59.25" y2="825.52" stroke="#4a4a4a" stroke-width="1.1"/>
<text x="51" y="828.83" font-size="9.8" text-anchor="end" letter-spacing="-0.2" fill="#000" stroke="#000" stroke-width="0.3">500</text>
<line x1="55.85" y1="796.33" x2="59.25" y2="796.33" stroke="#4a4a4a" stroke-width="1.1"/>
<text x="51" y="799.64" font-size="9.8" text-anchor="end" letter-spacing="-0.2" fill="#000" stroke="#000" stroke-width="0.3">1000</text>
<line x1="55.85" y1="767.15" x2="59.25" y2="767.15" stroke="#4a4a4a" stroke-width="1.1"/>
<text x="51" y="770.46" font-size="9.8" text-anchor="end" letter-spacing="-0.2" fill="#000" stroke="#000" stroke-width="0.3">1500</text>
<line x1="55.85" y1="737.97" x2="59.25" y2="737.97" stroke="#4a4a4a" stroke-width="1.1"/>
<text x="51" y="741.28" font-size="9.8" text-anchor="end" letter-spacing="-0.2" fill="#000" stroke="#000" stroke-width="0.3">2000</text>
<line x1="55.85" y1="708.78" x2="59.25" y2="708.78" stroke="#4a4a4a" stroke-width="1.1"/>
<text x="51" y="712.09" font-size="9.8" text-anchor="end" letter-spacing="-0.2" fill="#000" stroke="#000" stroke-width="0.3">2500</text>
<line x1="55.85" y1="679.6" x2="59.25" y2="679.6" stroke="#4a4a4a" stroke-width="1.1"/>
<text x="51" y="682.91" font-size="9.8" text-anchor="end" letter-spacing="-0.2" fill="#000" stroke="#000" stroke-width="0.3">3000</text>
<line x1="59.25" y1="854.7" x2="59.25" y2="857.7" stroke="#4a4a4a" stroke-width="1.1"/>
<text x="59.45" y="869.21" font-size="9.8" text-anchor="middle" letter-spacing="-0.2" fill="#000" stroke="#000" stroke-width="0.3">0</text>
<line x1="122.29" y1="854.7" x2="122.29" y2="857.7" stroke="#4a4a4a" stroke-width="1.1"/>
<text x="122.49" y="869.21" font-size="9.8" text-anchor="middle" letter-spacing="-0.2" fill="#000" stroke="#000" stroke-width="0.3">20</text>
<line x1="185.32" y1="854.7" x2="185.32" y2="857.7" stroke="#4a4a4a" stroke-width="1.1"/>
<text x="185.52" y="869.21" font-size="9.8" text-anchor="middle" letter-spacing="-0.2" fill="#000" stroke="#000" stroke-width="0.3">40</text>
<line x1="248.36" y1="854.7" x2="248.36" y2="857.7" stroke="#4a4a4a" stroke-width="1.1"/>
<text x="248.56" y="869.21" font-size="9.8" text-anchor="middle" letter-spacing="-0.2" fill="#000" stroke="#000" stroke-width="0.3">60</text>
<line x1="311.4" y1="854.7" x2="311.4" y2="857.7" stroke="#4a4a4a" stroke-width="1.1"/>
<text x="311.6" y="869.21" font-size="9.8" text-anchor="middle" letter-spacing="-0.2" fill="#000" stroke="#000" stroke-width="0.3">80</text>
<line x1="84.5" y1="679" x2="84.5" y2="854.7" stroke="#000" stroke-width="1.2" stroke-dasharray="3 1.14"/>
<line x1="97.15" y1="679" x2="97.15" y2="854.7" stroke="#000" stroke-width="1.2" stroke-dasharray="3 1.14"/>
<line x1="109.6" y1="679" x2="109.6" y2="854.7" stroke="#000" stroke-width="1.2" stroke-dasharray="3 1.14"/>
<text x="5.2" y="762.35" font-size="10.75" text-anchor="middle" font-weight="bold" transform="rotate(-90 5.2 758.5)" fill="#000" stroke="#000" stroke-width="0.12">Relative GFP fluorescence</text>
<text x="18.8" y="762.35" font-size="10.75" text-anchor="middle" font-weight="bold" transform="rotate(-90 18.8 758.5)" fill="#000" stroke="#000" stroke-width="0.12">(%Auto-fluorescence)</text>
<text x="176.8" y="881.09" font-size="10.6" text-anchor="middle" font-weight="bold" fill="#000" stroke="#000" stroke-width="0.12">Time (hour)</text>
<text x="9.6" y="878.9000000000001" font-size="17.2" font-weight="bold" fill="#000" stroke="#000" stroke-width="0.25">d</text>
<line x1="237.5" y1="721.5" x2="237.5" y2="731.5" stroke="#4a4a4a" stroke-width="1"/>
<line x1="235.25" y1="721.5" x2="239.75" y2="721.5" stroke="#4a4a4a" stroke-width="1"/>
<line x1="235.25" y1="731.5" x2="239.75" y2="731.5" stroke="#4a4a4a" stroke-width="1"/>
<line x1="299.5" y1="748.5" x2="299.5" y2="757.5" stroke="#4a4a4a" stroke-width="1"/>
<line x1="297.25" y1="748.5" x2="301.75" y2="748.5" stroke="#4a4a4a" stroke-width="1"/>
<line x1="297.25" y1="757.5" x2="301.75" y2="757.5" stroke="#4a4a4a" stroke-width="1"/>
<line x1="134.5" y1="806.5" x2="134.5" y2="809.5" stroke="#4a4a4a" stroke-width="1"/>
<line x1="132.25" y1="806.5" x2="136.75" y2="806.5" stroke="#4a4a4a" stroke-width="1"/>
<line x1="132.25" y1="809.5" x2="136.75" y2="809.5" stroke="#4a4a4a" stroke-width="1"/>
<line x1="171.5" y1="807.5" x2="171.5" y2="812.5" stroke="#4a4a4a" stroke-width="1"/>
<line x1="169.25" y1="807.5" x2="173.75" y2="807.5" stroke="#4a4a4a" stroke-width="1"/>
<line x1="169.25" y1="812.5" x2="173.75" y2="812.5" stroke="#4a4a4a" stroke-width="1"/>
<path d="M58.7 854.7 C59.83 854.7 63.33 854.7 65.5 854.7 C67.67 854.7 69.72 854.7 71.7 854.7 C73.68 854.7 75.28 854.7 77.4 854.7 C79.52 854.7 82.23 854.7 84.4 854.7 C86.57 854.7 88.23 854.73 90.4 854.7 C92.57 854.67 95.33 854.62 97.4 854.5 C99.47 854.38 100.88 854.25 102.8 854 C104.72 853.75 106.17 853.9 108.9 853 C111.63 852.1 114.9 849.33 119.2 848.6 C123.5 847.87 125.93 849.03 134.7 848.6 C143.47 848.17 159.45 846.03 171.8 846 C184.15 845.97 197.8 847.67 208.8 848.4 C219.8 849.13 222.6 849.58 237.8 850.4 C253 851.22 289.63 852.82 300 853.3" fill="none" stroke="#000" stroke-width="1.2" stroke-linejoin="round"/>
<path d="M58.7 852.2 L61.2 854.7 L58.7 857.2 L56.2 854.7 Z" fill="#000"/>
<path d="M65.5 852.2 L68 854.7 L65.5 857.2 L63 854.7 Z" fill="#000"/>
<path d="M71.7 852.2 L74.2 854.7 L71.7 857.2 L69.2 854.7 Z" fill="#000"/>
<path d="M77.4 852.2 L79.9 854.7 L77.4 857.2 L74.9 854.7 Z" fill="#000"/>
<path d="M84.4 852.2 L86.9 854.7 L84.4 857.2 L81.9 854.7 Z" fill="#000"/>
<path d="M90.4 852.2 L92.9 854.7 L90.4 857.2 L87.9 854.7 Z" fill="#000"/>
<path d="M97.4 852 L99.9 854.5 L97.4 857 L94.9 854.5 Z" fill="#000"/>
<path d="M102.8 851.5 L105.3 854 L102.8 856.5 L100.3 854 Z" fill="#000"/>
<path d="M108.9 850.5 L111.4 853 L108.9 855.5 L106.4 853 Z" fill="#000"/>
<path d="M119.2 846.1 L121.7 848.6 L119.2 851.1 L116.7 848.6 Z" fill="#000"/>
<path d="M134.7 846.1 L137.2 848.6 L134.7 851.1 L132.2 848.6 Z" fill="#000"/>
<path d="M171.8 843.5 L174.3 846 L171.8 848.5 L169.3 846 Z" fill="#000"/>
<path d="M208.8 845.9 L211.3 848.4 L208.8 850.9 L206.3 848.4 Z" fill="#000"/>
<path d="M237.8 847.9 L240.3 850.4 L237.8 852.9 L235.3 850.4 Z" fill="#000"/>
<path d="M300 850.8 L302.5 853.3 L300 855.8 L297.5 853.3 Z" fill="#000"/>
<path d="M58.7 848 C59.83 848 63.33 847.58 65.5 848 C67.67 848.42 69.72 850 71.7 850.5 C73.68 851 75.28 851.2 77.4 851 C79.52 850.8 82.23 849.8 84.4 849.3 C86.57 848.8 88.23 849.58 90.4 848 C92.57 846.42 90.02 846.18 97.4 839.8 C104.78 833.42 122.3 814.33 134.7 809.7 C147.1 805.07 159.17 810.28 171.8 812 C184.43 813.72 198.77 817.2 210.5 820 C222.23 822.8 229.53 826.35 242.2 828.8 C254.87 831.25 279.12 833.72 286.5 834.7" fill="none" stroke="#000" stroke-width="1.2" stroke-linejoin="round"/>
<path d="M58.7 845.2 L61.72 850.8 L55.68 850.8 Z" fill="#000"/>
<path d="M65.5 845.2 L68.52 850.8 L62.48 850.8 Z" fill="#000"/>
<path d="M71.7 847.7 L74.72 853.3 L68.68 853.3 Z" fill="#000"/>
<path d="M77.4 848.2 L80.42 853.8 L74.38 853.8 Z" fill="#000"/>
<path d="M84.4 846.5 L87.42 852.1 L81.38 852.1 Z" fill="#000"/>
<path d="M90.4 845.2 L93.42 850.8 L87.38 850.8 Z" fill="#000"/>
<path d="M97.4 837 L100.42 842.6 L94.38 842.6 Z" fill="#000"/>
<path d="M134.7 806.9 L137.72 812.5 L131.68 812.5 Z" fill="#000"/>
<path d="M171.8 809.2 L174.82 814.8 L168.78 814.8 Z" fill="#000"/>
<path d="M210.5 817.2 L213.52 822.8 L207.48 822.8 Z" fill="#000"/>
<path d="M242.2 826 L245.22 831.6 L239.18 831.6 Z" fill="#000"/>
<path d="M286.5 831.9 L289.52 837.5 L283.48 837.5 Z" fill="#000"/>
<path d="M58.7 822.3 C59.83 820.32 63.33 811.22 65.5 810.4 C67.67 809.58 69.72 816.23 71.7 817.4 C73.68 818.57 75.28 817.48 77.4 817.4 C79.52 817.32 82.23 818.03 84.4 816.9 C86.57 815.77 88.23 816.25 90.4 810.6 C92.57 804.95 95.33 787.82 97.4 783 C99.47 778.18 100.88 780.83 102.8 781.7 C104.72 782.57 106.17 791.25 108.9 788.2 C111.63 785.15 114.9 765.1 119.2 763.4 C123.5 761.7 125.93 779.68 134.7 778 C143.47 776.32 159.45 763.17 171.8 753.3 C184.15 743.43 197.8 723.3 208.8 718.8 C219.8 714.3 222.68 720.72 237.8 726.3 C252.92 731.88 289.22 747.97 299.5 752.3" fill="none" stroke="#000" stroke-width="1.3" stroke-linejoin="round"/>
<rect x="56" y="819.6" width="5.4" height="5.4" fill="#000"/>
<rect x="62.8" y="807.7" width="5.4" height="5.4" fill="#000"/>
<rect x="69" y="814.7" width="5.4" height="5.4" fill="#000"/>
<rect x="74.7" y="814.7" width="5.4" height="5.4" fill="#000"/>
<rect x="81.7" y="814.2" width="5.4" height="5.4" fill="#000"/>
<rect x="87.7" y="807.9" width="5.4" height="5.4" fill="#000"/>
<rect x="94.7" y="780.3" width="5.4" height="5.4" fill="#000"/>
<rect x="100.1" y="779" width="5.4" height="5.4" fill="#000"/>
<rect x="106.2" y="785.5" width="5.4" height="5.4" fill="#000"/>
<rect x="116.5" y="760.7" width="5.4" height="5.4" fill="#000"/>
<rect x="132" y="775.3" width="5.4" height="5.4" fill="#000"/>
<rect x="169.1" y="750.6" width="5.4" height="5.4" fill="#000"/>
<rect x="206.1" y="716.1" width="5.4" height="5.4" fill="#000"/>
<rect x="235.1" y="723.6" width="5.4" height="5.4" fill="#000"/>
<rect x="296.8" y="749.6" width="5.4" height="5.4" fill="#000"/>
<line x1="260.7" y1="686.5" x2="274.3" y2="686.5" stroke="#000" stroke-width="1.3"/>
<path d="M267.5 683.8 L270.2 686.5 L267.5 689.2 L264.8 686.5 Z" fill="#000"/>
<text x="275.6" y="690.53" font-size="10.7" text-anchor="start" font-style="italic" fill="#000" stroke="#000" stroke-width="0.32">ADH2</text>
<line x1="260.7" y1="701.8" x2="274.3" y2="701.8" stroke="#000" stroke-width="1.3"/>
<rect x="264.8" y="699.1" width="5.4" height="5.4" fill="#000"/>
<text x="275.6" y="705.83" font-size="10.7" text-anchor="start" font-style="italic" fill="#000" stroke="#000" stroke-width="0.32">SSA1</text>
<line x1="260.7" y1="718.4" x2="274.3" y2="718.4" stroke="#000" stroke-width="1.3"/>
<path d="M267.5 715.6 L270.52 721.2 L264.48 721.2 Z" fill="#000"/>
<text x="275.6" y="722.43" font-size="10.7" text-anchor="start" font-style="italic" fill="#000" stroke="#000" stroke-width="0.32">HXT7</text>
</svg>
</body>
</html>
